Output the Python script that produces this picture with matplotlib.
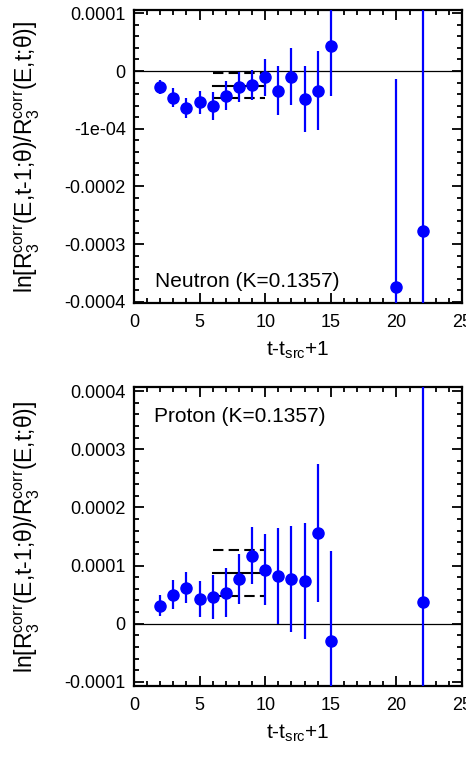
import numpy as np
import matplotlib
matplotlib.use("Agg")
import matplotlib.pyplot as plt

plt.rcParams['font.family'] = ['Liberation Sans', 'DejaVu Sans']
plt.rcParams['mathtext.fontset'] = 'custom'
plt.rcParams['mathtext.rm'] = 'Liberation Sans'
plt.rcParams['mathtext.it'] = 'Liberation Sans:italic'

# neutron
t_n = [2, 3, 4, 5, 6, 7, 8, 9, 10, 11, 12, 13, 14, 15, 20, 22]
y_n = [-2.8e-5, -4.6e-5, -6.4e-5, -5.4e-5, -6.1e-5, -4.3e-5, -2.7e-5, -2.4e-5,
       -1.1e-5, -3.4e-5, -1.0e-5, -4.9e-5, -3.4e-5, 4.4e-5, -3.74e-4, -2.77e-4]
e_n = [1.2e-5, 1.7e-5, 1.8e-5, 2.0e-5, 2.4e-5, 2.5e-5, 2.6e-5, 2.6e-5,
       3.2e-5, 4.2e-5, 4.9e-5, 5.7e-5, 6.8e-5, 8.8e-5, 3.61e-4, 4.5e-4]
fit_n = (6, 10, -2.55e-5, 2.2e-5)

# proton
t_p = [2, 3, 4, 5, 6, 7, 8, 9, 10, 11, 12, 13, 14, 15, 22]
y_p = [3.1e-5, 5.0e-5, 6.2e-5, 4.3e-5, 4.6e-5, 5.3e-5, 7.7e-5, 1.17e-4,
       9.3e-5, 8.2e-5, 7.7e-5, 7.3e-5, 1.56e-4, -3.0e-5, 3.7e-5]
e_p = [1.8e-5, 2.5e-5, 2.7e-5, 3.1e-5, 3.7e-5, 4.2e-5, 4.3e-5, 4.9e-5,
       6.1e-5, 8.3e-5, 9.1e-5, 1.0e-4, 1.18e-4, 1.55e-4, 5.0e-4]
fit_p = (6, 10, 8.75e-5, 3.9e-5)

yt_n = [0.0001, 0, -0.0001, -0.0002, -0.0003, -0.0004]
yl_n = ['0.0001', '0', '-1e-04', '-0.0002', '-0.0003', '-0.0004']
yt_p = [0.0004, 0.0003, 0.0002, 0.0001, 0, -0.0001]
yl_p = ['0.0004', '0.0003', '0.0002', '0.0001', '0', '-0.0001']

ylabel = r'ln[R$_3^{\rm corr}$(E,t-1;θ)/R$_3^{\rm corr}$(E,t;θ)]'
xlabel = r't-t$_{\rm src}$+1'

W, H = 466, 760
fig = plt.figure(figsize=(W / 100, H / 100), dpi=100)


def panel(box, t, y, e, fit, ylim, yt, yl, label, label_pos):
    l, top, r, bot = box
    ax = fig.add_axes([l / W, 1 - bot / H, (r - l) / W, (bot - top) / H])
    ax.axhline(0, color='black', lw=0.9, zorder=1)
    t0, t1, c, d = fit
    ax.plot([t0, t1], [c, c], color='black', lw=1.5, zorder=2)
    for v in (c - d, c + d):
        ax.plot([t0, t1], [v, v], color='black', lw=1.5, dashes=(5, 2.5), zorder=2)
    ax.errorbar(t, y, yerr=e, fmt='o', color='#0000ff', ms=8, elinewidth=1.6,
                capsize=0, zorder=3)
    ax.set_xticks([0, 5, 10, 15, 20, 25])
    ax.set_xticks(np.arange(0, 26, 1), minor=True)
    ax.set_yticks(yt)
    ax.set_yticklabels(yl)
    ax.set_yticks(np.arange(-0.0004, 0.00041, 0.00002), minor=True)
    ax.set_xlim(0, 25)
    ax.set_ylim(*ylim)
    ax.tick_params(which='both', direction='in', top=True, right=True,
                   labelsize=13, width=1.3)
    ax.tick_params(which='major', length=7)
    ax.tick_params(which='minor', length=3.5)
    ax.tick_params(axis='x', pad=8)
    ax.tick_params(axis='y', pad=6)
    for s in ax.spines.values():
        s.set_linewidth(1.6)
    ax.set_xlabel(xlabel, fontsize=15, labelpad=6)
    ax.text(label_pos[0], label_pos[1], label, transform=ax.transAxes,
            fontsize=15, va='center', ha='left')
    fig.text(27 / W, 1 - (top + bot) / 2 / H, ylabel, rotation=90,
             ha='center', va='center', fontsize=16.5)
    return ax


panel((134, 10, 462, 303), t_n, y_n, e_n, fit_n, (-0.000402, 0.0001057),
      yt_n, yl_n, 'Neutron (K=0.1357)', (0.065, 0.073))
panel((134, 387, 462, 686), t_p, y_p, e_p, fit_p, (-0.000107, 0.000407),
      yt_p, yl_p, 'Proton (K=0.1357)', (0.06, 0.90))

fig.savefig('out.png', dpi=100)
